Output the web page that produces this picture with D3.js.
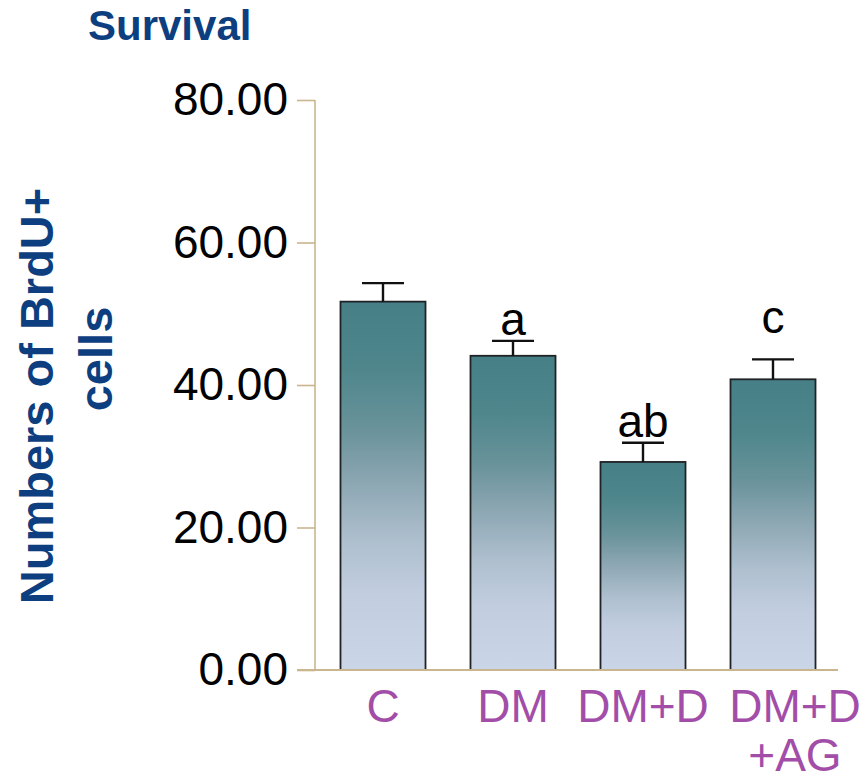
<!DOCTYPE html>
<html>
<head>
<meta charset="utf-8">
<script src="https://cdn.jsdelivr.net/npm/d3@7"></script>
<style>
  html, body { margin:0; padding:0; background:#fff; }
  svg { display:block; font-family:"Liberation Sans", Arial, sans-serif; }
</style>
</head>
<body>
<div id="chart"></div>
<script>
// Survival – BrdU+ Zellen je Gruppe
const groups   = ['C', 'DM', 'DM+D', 'DM+D+AG'];
const groupTxt = [['C'], ['DM'], ['DM+D'], ['DM+D', '+AG']];
const means    = [51.7, 44.1, 29.2, 40.8];
const sems     = [2.6, 2.1, 2.7, 2.8];
const sigLabel = ['', 'a', 'ab', 'c'];
const yTicks   = [0, 20, 40, 60, 80];

const W = 865, H = 781;
const axisCol = '#c9b68e', blue = '#0d3f80', purple = '#a24ea8';

const svg = d3.select('#chart').append('svg')
  .attr('width', W).attr('height', H);

// Verlauf je Balken (oben Petrol, unten hellblau-grau)
const grad = svg.append('defs').append('linearGradient')
  .attr('id', 'barGrad').attr('x1', 0).attr('y1', 0).attr('x2', 0).attr('y2', 1);
[['0%', '#467f86'], ['18%', '#4e868c'], ['35%', '#6a939b'], ['50%', '#8ea8b4'],
 ['65%', '#aebfce'], ['80%', '#c2cee0'], ['100%', '#cad5e8']].forEach(([o, c]) =>
  grad.append('stop').attr('offset', o).attr('stop-color', c));

const x = d3.scaleBand()
  .domain(groups)
  .range([318, 838])
  .paddingInner(0.346)
  .paddingOuter(0.173);
const y = d3.scaleLinear().domain([0, 80]).range([670, 100]);

// Balken
svg.selectAll('rect.bar')
  .data(groups)
  .enter().append('rect')
    .attr('class', 'bar')
    .attr('x', d => x(d))
    .attr('y', (d, i) => y(means[i]))
    .attr('width', x.bandwidth())
    .attr('height', (d, i) => y(0) - y(means[i]))
    .attr('fill', 'url(#barGrad)')
    .attr('stroke', '#1f2326')
    .attr('stroke-width', 1.8);

// Fehlerbalken (nur nach oben)
const capW = 42;
const eb = svg.append('g').attr('stroke', '#111').attr('stroke-width', 2.4);
groups.forEach((g, i) => {
  const cx = x(g) + x.bandwidth() / 2;
  eb.append('line')
    .attr('x1', cx).attr('x2', cx)
    .attr('y1', y(means[i])).attr('y2', y(means[i] + sems[i]));
  eb.append('line')
    .attr('x1', cx - capW / 2).attr('x2', cx + capW / 2)
    .attr('y1', y(means[i] + sems[i])).attr('y2', y(means[i] + sems[i]));
});

// Signifikanz-Buchstaben
const gap = { a: 6, ab: 6, c: 26 };
groups.forEach((g, i) => {
  if (!sigLabel[i]) return;
  svg.append('text')
    .attr('x', x(g) + x.bandwidth() / 2)
    .attr('y', y(means[i] + sems[i]) - gap[sigLabel[i]])
    .attr('text-anchor', 'middle')
    .attr('font-size', 46)
    .attr('fill', '#000')
    .text(sigLabel[i]);
});

// y-Achse
const yAxis = svg.append('g')
  .attr('transform', 'translate(315,0)')
  .call(d3.axisLeft(y)
    .tickValues(yTicks)
    .tickSize(18)
    .tickPadding(9)
    .tickFormat(d3.format('.2f')));
yAxis.select('.domain')
  .attr('stroke', axisCol).attr('stroke-width', 1.6)
  .attr('d', `M0,${y(80)}V${y(0)}`);
yAxis.selectAll('.tick line').attr('stroke', axisCol).attr('stroke-width', 1.6);
yAxis.selectAll('.tick text')
  .attr('font-size', 46)
  .attr('fill', '#000')
  .attr('font-family', '"Liberation Sans", Arial, sans-serif');

// Grundlinie
svg.append('line')
  .attr('x1', 297).attr('x2', 838)
  .attr('y1', y(0)).attr('y2', y(0))
  .attr('stroke', axisCol).attr('stroke-width', 1.8);

// x-Beschriftung (letzte Gruppe ist im Original nach rechts versetzt)
const labelShift = [0, 0, 0, 22];
groups.forEach((g, i) => {
  const cx = x(g) + x.bandwidth() / 2 + labelShift[i];
  const t = svg.append('text')
    .attr('x', cx)
    .attr('y', 722)
    .attr('text-anchor', 'middle')
    .attr('font-size', 46)
    .attr('fill', purple);
  groupTxt[i].forEach((line, k) => {
    t.append('tspan')
      .attr('x', cx)
      .attr('dy', k === 0 ? 0 : 49)
      .text(line);
  });
});

// Titel
svg.append('text')
  .attr('x', 88).attr('y', 40)
  .attr('font-size', 42).attr('font-weight', 700)
  .attr('fill', blue)
  .text('Survival');

// y-Titel (zweizeilig, gedreht)
svg.append('text')
  .attr('transform', 'translate(53,396) rotate(-90)')
  .attr('text-anchor', 'middle')
  .attr('font-size', 47).attr('font-weight', 700)
  .attr('fill', blue)
  .text('Numbers of BrdU+');
svg.append('text')
  .attr('transform', 'translate(112,359) rotate(-90)')
  .attr('text-anchor', 'middle')
  .attr('font-size', 47).attr('font-weight', 700)
  .attr('fill', blue)
  .text('cells');
</script>
</body>
</html>
